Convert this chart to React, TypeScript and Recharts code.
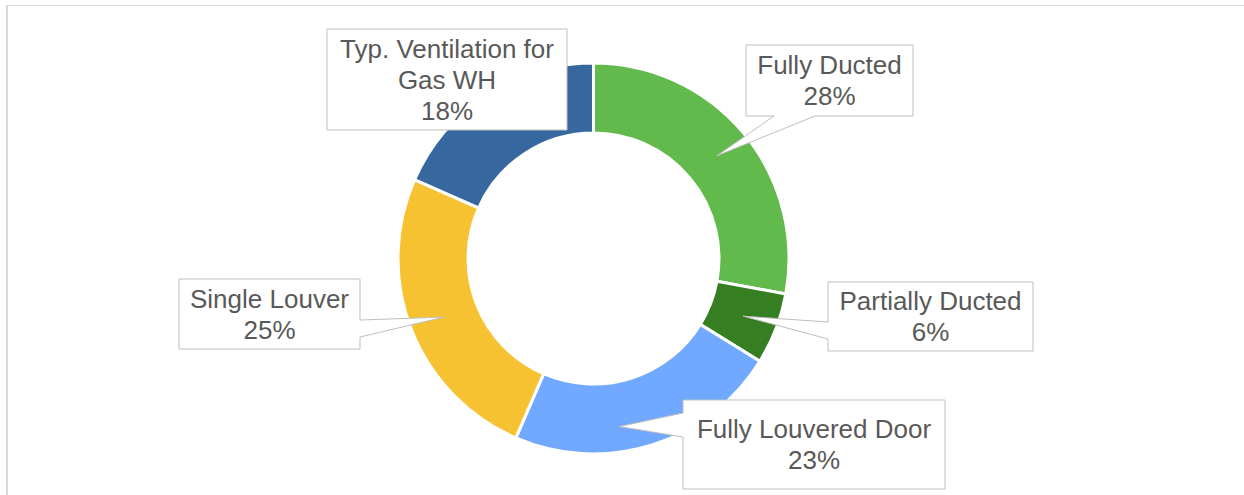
import React from 'react';
import { PieChart, Pie, Cell } from 'recharts';

// ventilation type shares (%)
const categories = [
    'Fully Ducted',
    'Partially Ducted',
    'Fully Louvered Door',
    'Single Louver',
    'Typ. Ventilation for\nGas WH',
];
const shares = [27.9, 5.9, 22.7, 25.1, 18.4];

const COLORS = ['#62B94C', '#357F22', '#70A9FF', '#F6C232', '#36679F'];

const data = categories.map((name, i) => ({ name, value: shares[i] }));

// callout boxes (Excel-style placement), pointer edge + base span
type Callout = {
    x: number; y: number; w: number; h: number;
    edge: 'bottom' | 'left' | 'right' | 'none';
    b1: number; b2: number;
    tipShift?: number; tipR?: number;
};
const CALLOUTS: Callout[] = [
    { x: 746, y: 45, w: 167, h: 71, edge: 'bottom', b1: 774, b2: 815 },
    { x: 828, y: 282, w: 205, h: 69, edge: 'left', b1: 322, b2: 339 },
    { x: 683, y: 400, w: 262, h: 89, edge: 'left', b1: 413, b2: 437, tipShift: -8.7, tipR: 170 },
    { x: 179, y: 279, w: 181, h: 70, edge: 'right', b1: 320, b2: 337 },
    { x: 327, y: 29, w: 240, h: 101, edge: 'none', b1: 0, b2: 0 },
];

const RAD = Math.PI / 180;
const FONT = 26;
const LINE_H = 31;

const renderLabel = (props: any) => {
    const { cx, cy, midAngle, innerRadius, outerRadius, percent, index, name } = props;
    const c = CALLOUTS[index];
    const ang = (midAngle + (c.tipShift || 0)) * RAD;
    const r = c.tipR || (innerRadius + outerRadius) / 2;
    const tx = cx + r * Math.cos(-ang);
    const ty = cy + r * Math.sin(-ang);
    const { x, y, w, h } = c;
    let d = '';
    if (c.edge === 'bottom') {
        d = `M${x},${y}H${x + w}V${y + h}H${c.b2}L${tx},${ty}L${c.b1},${y + h}H${x}Z`;
    } else if (c.edge === 'left') {
        d = `M${x},${y}H${x + w}V${y + h}H${x}V${c.b2}L${tx},${ty}L${x},${c.b1}Z`;
    } else if (c.edge === 'right') {
        d = `M${x},${y}H${x + w}V${c.b1}L${tx},${ty}L${x + w},${c.b2}V${y + h}H${x}Z`;
    } else {
        d = `M${x},${y}H${x + w}V${y + h}H${x}Z`;
    }
    const lines = [...String(name).split('\n'), `${Math.round(percent * 100)}%`];
    const midY = y + h / 2;
    const first = midY - ((lines.length - 1) * LINE_H) / 2;
    return (
        <g key={`lbl-${index}`}>
            <path d={d} fill="#FFFFFF" stroke="#BFBFBF" strokeWidth={1} />
            {lines.map((t, i) => (
                <text
                    key={i}
                    x={x + w / 2}
                    y={first + i * LINE_H + FONT * 0.358}
                    textAnchor="middle"
                    fill="#595959"
                    fontSize={FONT}
                    fontFamily="'Liberation Sans', Arial, sans-serif"
                >
                    {t}
                </text>
            ))}
        </g>
    );
};

const App: React.FC = () => {
    return (
        <div style={{ position: 'absolute', left: 0, top: 0, width: 1244, height: 495, overflow: 'hidden', background: '#fff' }}>
            <div
                style={{
                    position: 'absolute', left: 6, top: 5, width: 1300, height: 600,
                    borderLeft: '2px solid #D9D9D9', borderTop: '1px solid #D9D9D9',
                }}
            />
            <div style={{ position: 'absolute', left: 0, top: 0 }}>
                <PieChart width={1244} height={495} margin={{ top: 0, right: 0, bottom: 0, left: 0 }}>
                    <Pie
                        data={data}
                        dataKey="value"
                        nameKey="name"
                        cx={593.5}
                        cy={258.5}
                        innerRadius={125.5}
                        outerRadius={195.5}
                        startAngle={90}
                        endAngle={-270}
                        stroke="#FFFFFF"
                        strokeWidth={3}
                        label={renderLabel}
                        labelLine={false}
                        isAnimationActive={false}
                    >
                        {data.map((entry, index) => (
                            <Cell key={`cell-${index}`} fill={COLORS[index % COLORS.length]} />
                        ))}
                    </Pie>
                </PieChart>
            </div>
        </div>
    );
};

export default App;
